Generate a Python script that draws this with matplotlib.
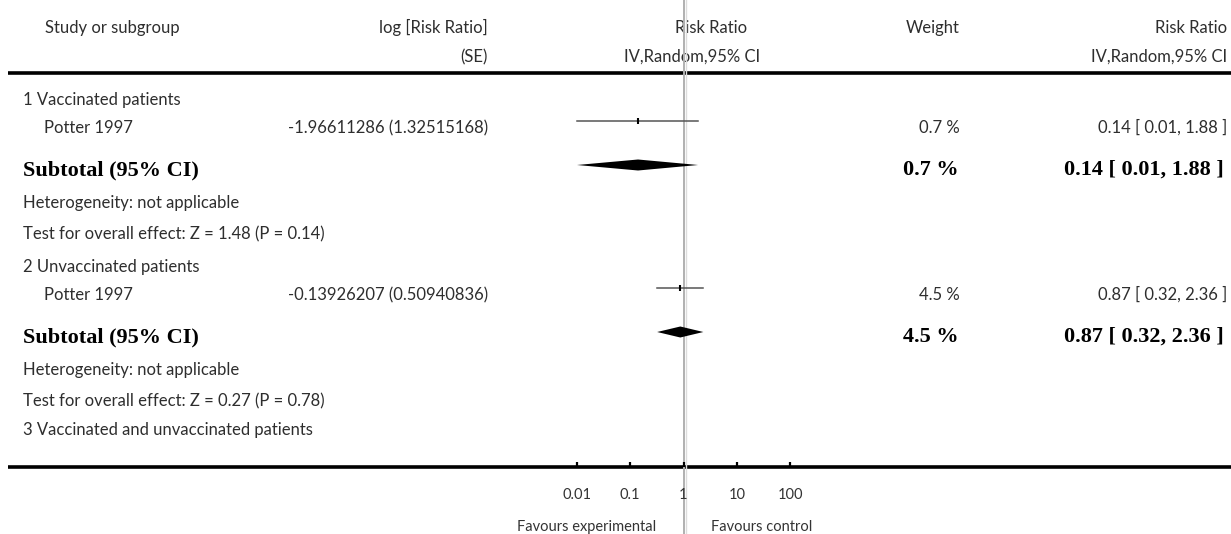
import matplotlib
matplotlib.use("Agg")
import matplotlib.pyplot as plt
from matplotlib.transforms import offset_copy

plt.rcParams["font.family"] = ["Lato", "DejaVu Sans"]

# data
header_left = ["Study or subgroup", "log [Risk Ratio]", "(SE)"]
header_mid = ["Risk Ratio", "IV,Random,95% CI"]
subgroups = ["1 Vaccinated patients", "2 Unvaccinated patients",
             "3 Vaccinated and unvaccinated patients"]
studies = ["Potter 1997", "Potter 1997"]
log_rr = ["-1.96611286", "-0.13926207"]
log_se = ["1.32515168", "0.50940836"]
rr = [0.14, 0.87]
rr_low = [0.01, 0.32]
rr_high = [1.88, 2.36]
weights = [0.7, 4.5]
heterogeneity = ["Heterogeneity: not applicable", "Heterogeneity: not applicable"]
overall_z = [1.48, 0.27]
overall_p = [0.14, 0.78]
tick_vals = [0.01, 0.1, 1, 10, 100]
tick_labels = ["0.01", "0.1", "1", "10", "100"]
favours = ["Favours experimental", "Favours control"]

W, H = 1231, 534
fig = plt.figure(figsize=(W / 100, H / 100), dpi=100)

# background axes in pixel units for the table text
bg = fig.add_axes([0, 0, 1, 1])
bg.set_xlim(0, W)
bg.set_ylim(H, 0)
bg.axis("off")

# forest plot axes, log scale, y in pixel rows
left_px, right_px = 550, 817
ax = fig.add_axes([left_px / W, 0, (right_px - left_px) / W, 1])
ax.patch.set_alpha(0)
ax.set_xscale("log")
ax.set_xlim(10 ** -2.507, 10 ** 2.507)
ax.set_ylim(H, 0)
for s in ["top", "left", "right"]:
    ax.spines[s].set_visible(False)
ax.spines["bottom"].set_position(("data", 467))
ax.spines["bottom"].set_visible(False)
ax.set_yticks([])
ax.set_xticks(tick_vals)
ax.set_xticklabels(tick_labels)
ax.minorticks_off()
ax.tick_params(axis="x", direction="in", length=3.8, width=1.6, color="black",
               pad=15, labelsize=10.5, labelcolor="#333333")

txt = dict(color="#2e2e2e", fontsize=12, va="baseline")
bold = dict(color="black", fontsize=16, va="baseline", fontweight="bold",
            family="Liberation Serif")

# header
bg.text(45, 33, header_left[0], ha="left", **txt)
bg.text(488, 33, header_left[1], ha="right", **txt)
bg.text(488, 62, header_left[2], ha="right", **txt)
bg.text(711, 33, header_mid[0], ha="center", **txt)
bg.text(692, 62, header_mid[1], ha="center", **txt)
bg.text(960, 33, "Weight", ha="right", **txt)
bg.text(1227, 33, header_mid[0], ha="right", **txt)
bg.text(1227, 62, header_mid[1], ha="right", **txt)
bg.plot([8, W], [72.5, 72.5], color="black", lw=2.6, solid_capstyle="butt")
bg.plot([8, W], [467, 467], color="black", lw=2.6, solid_capstyle="butt")

# null line
ax.plot([1, 1], [0, H], color="#b0b0b0", lw=1.4, clip_on=False, zorder=1)
ax.plot([1, 1], [0, H], color="#dcdcdc", lw=1.0, clip_on=False, zorder=1,
        transform=offset_copy(ax.transData, fig=fig, x=2.2, y=0, units="dots"))

# rows: y of the marks for each subgroup block
block_y = [121, 288]
for i in range(2):
    y = block_y[i]
    bg.text(23, y - 16, subgroups[i], ha="left", **txt)
    bg.text(44, y + 12, studies[i], ha="left", **txt)
    bg.text(488, y + 12, f"{log_rr[i]} ({log_se[i]})", ha="right", **txt)
    bg.text(960, y + 12, f"{weights[i]} %", ha="right", **txt)
    bg.text(1227, y + 12, f"{rr[i]:.2f} [ {rr_low[i]:.2f}, {rr_high[i]:.2f} ]",
            ha="right", **txt)
    # study CI and point
    ax.plot([rr_low[i], rr_high[i]], [y, y], color="#555555", lw=1.1, zorder=3)
    ax.plot([rr[i]], [y], marker="|", ms=4, mew=1.5, color="black", zorder=4)

    # subtotal diamond
    ys = y + 44
    ax.fill([rr_low[i], rr[i], rr_high[i], rr[i]], [ys, ys - 5.5, ys, ys + 5.5],
            color="black", lw=0, zorder=4)
    bg.text(23, ys + 10, "Subtotal (95% CI)", ha="left", **bold)
    bg.text(959, ys + 10, f"{weights[i]} %", ha="right", **bold)
    bg.text(1224, ys + 10, f"{rr[i]:.2f} [ {rr_low[i]:.2f}, {rr_high[i]:.2f} ]",
            ha="right", **bold)
    bg.text(23, ys + 43, heterogeneity[i], ha="left", **txt)
    bg.text(23, ys + 74,
            f"Test for overall effect: Z = {overall_z[i]:.2f} (P = {overall_p[i]:.2f})",
            ha="left", **txt)

bg.text(23, 435, subgroups[2], ha="left", **txt)

# favours labels
bg.text(656, 531, favours[0], ha="right", color="#333333", fontsize=10.5, va="baseline")
bg.text(711, 531, favours[1], ha="left", color="#333333", fontsize=10.5, va="baseline")

fig.savefig("out.png", dpi=100)
